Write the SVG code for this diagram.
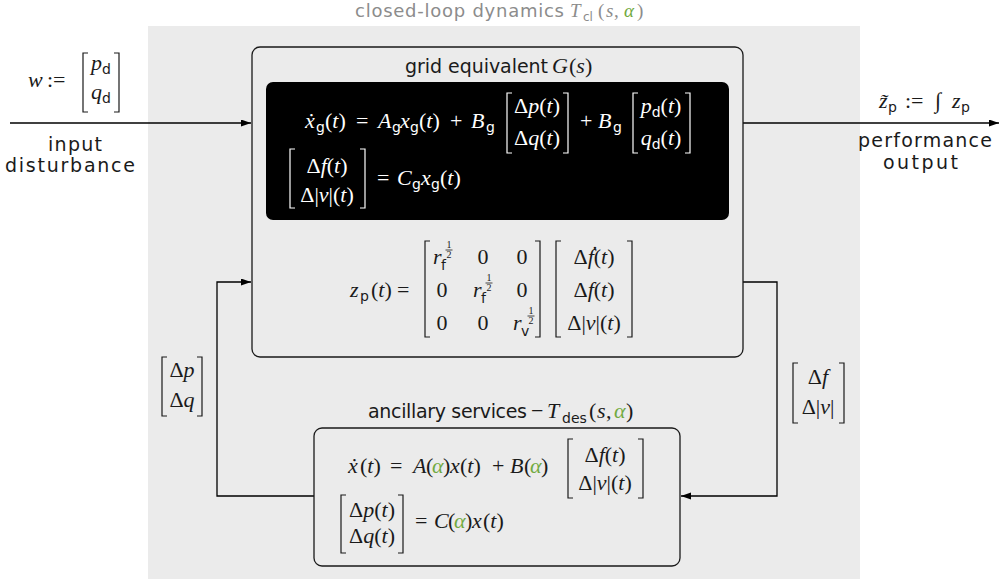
<svg xmlns="http://www.w3.org/2000/svg" width="1000" height="581" viewBox="0 0 1000 581">
  <defs>
    <marker id="arrow" markerUnits="userSpaceOnUse" markerWidth="11" markerHeight="8" refX="10" refY="3.5" orient="auto">
      <path d="M0,0 L10,3.5 L0,7 z" fill="#000"/>
    </marker>
    <style>
      .bg { fill: #ebebeb; }
      .box { fill: none; stroke: #1a1a1a; stroke-width: 1.3; }
      .blk { fill: #000; }
      .wire { fill: none; stroke: #000; stroke-width: 1.3; }
      .lbl { font-family: "DejaVu Sans", sans-serif; font-size: 19px; fill: #1a1a1a; }
      .m { font-family: "Liberation Serif", serif; font-size: 22px; fill: #1a1a1a; }
      .it { font-style: italic; }
      .s { font-family: "DejaVu Sans", sans-serif; font-size: 14px; font-style: normal; }
      .fr { font-family: "Liberation Serif", serif; font-size: 10px; fill: #1a1a1a; }
      .br { fill: none; stroke: #1a1a1a; stroke-width: 1.2; }
      .fb { stroke: #1a1a1a; stroke-width: 0.8; }
      .inv .m { fill: #fff; }
      .inv .br { stroke: #fff; }
      .grey { fill: #8c8c8c; }
      .green { fill: #72aa41; }
      .small { font-size: 18px; }
    </style>
  </defs>

  <!-- closed-loop region -->
  <g id="closed-loop">
    <rect class="bg" x="148" y="26" width="712" height="553"/>
    <text class="lbl grey small" x="355" y="17" textLength="209" lengthAdjust="spacing">closed-loop dynamics</text>
    <text class="m grey" y="17" style="font-size:19px"><tspan class="it" x="570">T</tspan><tspan class="s" x="583" y="21" style="font-size:12px">cl</tspan><tspan x="598" y="17">(</tspan><tspan class="it" x="606">s</tspan><tspan x="614">,</tspan><tspan class="it green" x="624">α</tspan><tspan x="637">)</tspan></text>
  </g>

  <!-- connectors -->
  <g id="connectors">
    <path class="wire" d="M10,123 H251" marker-end="url(#arrow)"/>
    <path class="wire" d="M743,123 H999" marker-end="url(#arrow)"/>
    <path class="wire" d="M743,282 H777 V496 H681" marker-end="url(#arrow)"/>
    <path class="wire" d="M314,496 H217 V282 H251" marker-end="url(#arrow)"/>
  </g>

  <!-- input disturbance -->
  <g id="input">
    <text class="m" y="87"><tspan class="it" x="28">w</tspan><tspan x="47">:=</tspan></text>
    <path class="br" d="M88,53 H83 V112 H88 M114,53 H119 V112 H114"/>
    <text class="m" x="101" y="70" text-anchor="middle"><tspan class="it">p</tspan><tspan class="s" dy="4">d</tspan></text>
    <text class="m" x="101" y="99" text-anchor="middle"><tspan class="it">q</tspan><tspan class="s" dy="4">d</tspan></text>
    <text class="lbl" x="48" y="151" textLength="54" lengthAdjust="spacing">input</text>
    <text class="lbl" x="5" y="172" textLength="130" lengthAdjust="spacing">disturbance</text>
  </g>

  <!-- performance output -->
  <g id="output">
    <text class="m" y="108"><tspan class="it" x="879">z̃</tspan><tspan class="s" x="888" y="112">p</tspan><tspan x="905" y="108">:=</tspan><tspan x="935">∫</tspan><tspan class="it" x="952">z</tspan><tspan class="s" x="961" y="112">p</tspan></text>
    <text class="lbl" x="858" y="147" textLength="134" lengthAdjust="spacing">performance</text>
    <text class="lbl" x="883" y="169" textLength="75" lengthAdjust="spacing">output</text>
  </g>

  <!-- grid equivalent block -->
  <g id="grid-equivalent">
    <rect class="box" x="252" y="47" width="491" height="310" rx="8"/>
    <text class="lbl" x="405" y="73" textLength="143" lengthAdjust="spacing">grid equivalent</text>
    <text class="m" y="73"><tspan class="it" x="552">G</tspan><tspan x="569">(</tspan><tspan class="it">s</tspan><tspan>)</tspan></text>

    <g class="inv">
      <rect class="blk" x="266" y="82" width="463" height="138" rx="7"/>
      <text class="m" y="128"><tspan class="it" x="305">ẋ</tspan><tspan class="s" x="316" y="132">g</tspan><tspan x="325" y="128">(</tspan><tspan class="it">t</tspan><tspan>)</tspan><tspan x="356">=</tspan><tspan class="it" x="378">A</tspan><tspan class="s" x="392" y="132">g</tspan><tspan class="it" x="400" y="128">x</tspan><tspan class="s" x="410" y="132">g</tspan><tspan x="419" y="128">(</tspan><tspan class="it">t</tspan><tspan>)</tspan><tspan x="450">+</tspan><tspan class="it" x="471">B</tspan><tspan class="s" x="486" y="132">g</tspan></text>
      <path class="br" d="M512,93 H507 V153 H512 M563,93 H568 V153 H563"/>
      <text class="m" x="537" y="113" text-anchor="middle">Δ<tspan class="it">p</tspan>(<tspan class="it">t</tspan>)</text>
      <text class="m" x="537" y="145" text-anchor="middle">Δ<tspan class="it">q</tspan>(<tspan class="it">t</tspan>)</text>
      <text class="m" y="128"><tspan x="580">+</tspan><tspan class="it" x="598">B</tspan><tspan class="s" x="613" y="132">g</tspan></text>
      <path class="br" d="M638,93 H633 V153 H638 M685,93 H690 V153 H685"/>
      <text class="m" x="661" y="113" text-anchor="middle"><tspan class="it">p</tspan><tspan class="s" dy="4">d</tspan><tspan dy="-4">(</tspan><tspan class="it">t</tspan>)</text>
      <text class="m" x="661" y="145" text-anchor="middle"><tspan class="it">q</tspan><tspan class="s" dy="4">d</tspan><tspan dy="-4">(</tspan><tspan class="it">t</tspan>)</text>

      <path class="br" d="M295,149 H290 V208 H295 M360,149 H365 V208 H360"/>
      <text class="m" x="327" y="173" text-anchor="middle">Δ<tspan class="it">f</tspan>(<tspan class="it">t</tspan>)</text>
      <text class="m" x="327" y="202" text-anchor="middle">Δ|<tspan class="it">v</tspan>|(<tspan class="it">t</tspan>)</text>
      <text class="m" y="185"><tspan x="377">=</tspan><tspan class="it" x="397">C</tspan><tspan class="s" x="412" y="189">g</tspan><tspan class="it" x="421" y="185">x</tspan><tspan class="s" x="431" y="189">g</tspan><tspan x="440" y="185">(</tspan><tspan class="it">t</tspan><tspan>)</tspan></text>
    </g>

    <!-- performance channel z_p -->
    <text class="m" y="297"><tspan class="it" x="350">z</tspan><tspan class="s" x="360" y="301">p</tspan><tspan x="371" y="297">(</tspan><tspan class="it">t</tspan><tspan>)</tspan><tspan x="397">=</tspan></text>
    <path class="br" d="M430,241 H425 V337 H430 M535,241 H540 V337 H535"/>
    <!-- row 1 -->
    <text class="m" y="264"><tspan class="it" x="433">r</tspan><tspan class="s" x="441" y="270">f</tspan></text>
    <text class="fr" x="449" y="248" text-anchor="middle">1</text>
    <line class="fb" x1="445.5" y1="250" x2="452.5" y2="250"/>
    <text class="fr" x="449" y="258" text-anchor="middle">2</text>
    <text class="m" x="483" y="264" text-anchor="middle">0</text>
    <text class="m" x="522" y="264" text-anchor="middle">0</text>
    <!-- row 2 -->
    <text class="m" x="442" y="297" text-anchor="middle">0</text>
    <text class="m" y="297"><tspan class="it" x="473">r</tspan><tspan class="s" x="481" y="303">f</tspan></text>
    <text class="fr" x="489" y="281" text-anchor="middle">1</text>
    <line class="fb" x1="485.5" y1="283" x2="492.5" y2="283"/>
    <text class="fr" x="489" y="291" text-anchor="middle">2</text>
    <text class="m" x="522" y="297" text-anchor="middle">0</text>
    <!-- row 3 -->
    <text class="m" x="442" y="330" text-anchor="middle">0</text>
    <text class="m" x="483" y="330" text-anchor="middle">0</text>
    <text class="m" y="330"><tspan class="it" x="513">r</tspan><tspan class="s" x="521" y="336">v</tspan></text>
    <text class="fr" x="531" y="314" text-anchor="middle">1</text>
    <line class="fb" x1="527.5" y1="316" x2="534.5" y2="316"/>
    <text class="fr" x="531" y="324" text-anchor="middle">2</text>

    <path class="br" d="M561,241 H556 V337 H561 M627,241 H632 V337 H627"/>
    <text class="m" x="594" y="264" text-anchor="middle">Δ<tspan class="it">ḟ</tspan>(<tspan class="it">t</tspan>)</text>
    <text class="m" x="594" y="297" text-anchor="middle">Δ<tspan class="it">f</tspan>(<tspan class="it">t</tspan>)</text>
    <text class="m" x="594" y="330" text-anchor="middle">Δ|<tspan class="it">v</tspan>|(<tspan class="it">t</tspan>)</text>
  </g>

  <!-- feedback signal labels -->
  <g id="label-pq">
    <path class="br" d="M167,357 H162 V416 H167 M197,357 H202 V416 H197"/>
    <text class="m" x="182" y="377" text-anchor="middle">Δ<tspan class="it">p</tspan></text>
    <text class="m" x="182" y="407" text-anchor="middle">Δ<tspan class="it">q</tspan></text>
  </g>
  <g id="label-fv">
    <path class="br" d="M798,363 H793 V423 H798 M839,363 H844 V423 H839"/>
    <text class="m" x="818" y="384" text-anchor="middle">Δ<tspan class="it">f</tspan></text>
    <text class="m" x="818" y="414" text-anchor="middle">Δ|<tspan class="it">v</tspan>|</text>
  </g>

  <!-- ancillary services block -->
  <g id="ancillary-services">
    <text class="lbl" x="368" y="418" textLength="159" lengthAdjust="spacing">ancillary services</text>
    <text class="m" y="418"><tspan x="531">−</tspan><tspan class="it" x="547">T</tspan><tspan class="s" x="562" y="423">des</tspan><tspan x="589" y="418">(</tspan><tspan class="it" x="597">s</tspan><tspan x="606">,</tspan><tspan class="it green" x="614">α</tspan><tspan x="626">)</tspan></text>
    <rect class="box" x="314" y="428" width="366" height="138" rx="8"/>

    <text class="m" y="473"><tspan class="it" x="348">ẋ</tspan><tspan x="360">(</tspan><tspan class="it">t</tspan><tspan>)</tspan><tspan x="390">=</tspan><tspan class="it" x="413">A</tspan><tspan x="426">(</tspan><tspan class="it green" x="432">α</tspan><tspan x="443">)</tspan><tspan class="it" x="450">x</tspan><tspan x="460">(</tspan><tspan class="it">t</tspan><tspan>)</tspan><tspan x="492">+</tspan><tspan class="it" x="510">B</tspan><tspan x="524">(</tspan><tspan class="it green" x="530">α</tspan><tspan x="541">)</tspan></text>
    <path class="br" d="M573,439 H568 V498 H573 M638,439 H643 V498 H638"/>
    <text class="m" x="605" y="462" text-anchor="middle">Δ<tspan class="it">f</tspan>(<tspan class="it">t</tspan>)</text>
    <text class="m" x="605" y="490" text-anchor="middle">Δ|<tspan class="it">v</tspan>|(<tspan class="it">t</tspan>)</text>

    <path class="br" d="M346,495 H341 V553 H346 M398,495 H403 V553 H398"/>
    <text class="m" x="372" y="517" text-anchor="middle">Δ<tspan class="it">p</tspan>(<tspan class="it">t</tspan>)</text>
    <text class="m" x="372" y="543" text-anchor="middle">Δ<tspan class="it">q</tspan>(<tspan class="it">t</tspan>)</text>
    <text class="m" y="528"><tspan x="415">=</tspan><tspan class="it" x="434">C</tspan><tspan x="448">(</tspan><tspan class="it green" x="454">α</tspan><tspan x="465">)</tspan><tspan class="it" x="472">x</tspan><tspan x="483">(</tspan><tspan class="it">t</tspan><tspan>)</tspan></text>
  </g>
</svg>
